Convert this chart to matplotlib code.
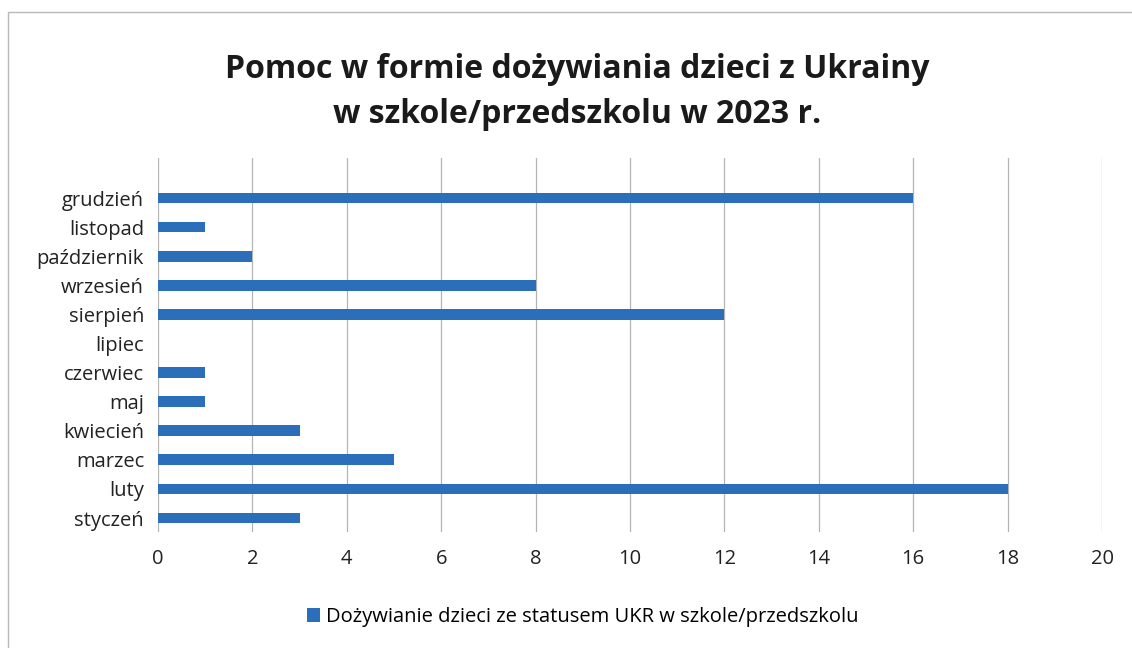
import matplotlib.pyplot as plt
from matplotlib.patches import Rectangle

plt.rcParams['font.family'] = ['Open Sans', 'DejaVu Sans']

# dane
miesiace = ['styczeń', 'luty', 'marzec', 'kwiecień', 'maj', 'czerwiec',
            'lipiec', 'sierpień', 'wrzesień', 'październik', 'listopad', 'grudzień']
wartosci = [3, 18, 5, 3, 1, 1, 0, 12, 8, 2, 1, 16]
seria = 'Dożywianie dzieci ze statusem UKR w szkole/przedszkolu'
tytul = 'Pomoc w formie dożywiania dzieci z Ukrainy\nw szkole/przedszkolu w 2023 r.'
x_ticks = list(range(0, 21, 2))

kolor = '#2B6EBA'

fig = plt.figure(figsize=(11.32, 6.48), dpi=100)
# ramka wykresu
fig.patches.append(Rectangle((8 / 1132, -0.1), 1.2, 1 - 12 / 648 + 0.1,
                             transform=fig.transFigure, fill=False,
                             edgecolor='#B8B8B8', linewidth=1))

ax = fig.add_axes([158 / 1132, 116 / 648, 944 / 1132, 374 / 648])
ypos = range(len(miesiace))
ax.barh(ypos, wartosci, height=0.37, color=kolor, label=seria, zorder=3)

ax.set_xlim(0, 20)
ax.set_ylim(-0.48, 12.375)
ax.set_xticks(x_ticks)
ax.set_yticks(list(ypos))
ax.set_yticklabels(miesiace)
ax.tick_params(axis='both', length=0, labelsize=14.5, colors='#222222')
ax.tick_params(axis='x', pad=12)
ax.tick_params(axis='y', pad=10)
ax.grid(axis='x', color='#B4B4B4', linewidth=0.9, zorder=0)
for s in ax.spines.values():
    s.set_visible(False)

fig.text(0.51, 1 - 92 / 648, tytul, ha='center', va='center',
         fontsize=23, fontweight='bold', linespacing=1.5, color='#1A1A1A')

fig.legend(loc='center', bbox_to_anchor=(0.515, 1 - 617 / 648), frameon=False,
           fontsize=14.5, handlelength=0.65, handleheight=0.65, handletextpad=0.3)

fig.savefig('out.png', dpi=100)
